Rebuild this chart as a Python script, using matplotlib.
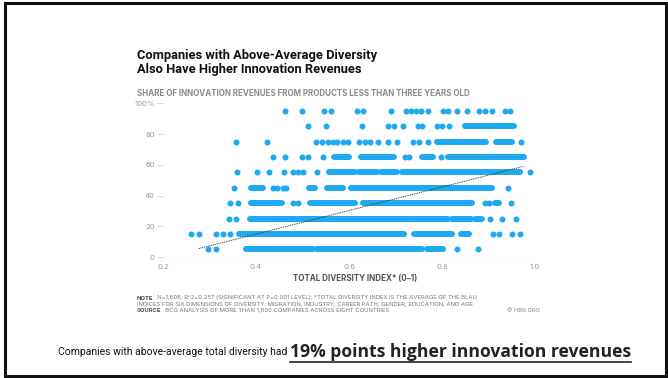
import matplotlib.pyplot as plt
from matplotlib.patches import Rectangle
from matplotlib.lines import Line2D

# rows of the scatter (share of innovation revenues, %)
row_levels = [5, 15, 25, 35, 45, 55, 65, 75, 85, 95]

# single dots and continuous runs of overlapping dots, per row
dots_05 = [0.296, 0.315, 0.832, 0.877]
runs_05 = [(0.378, 0.522), (0.532, 0.757), (0.768, 0.801)]
dots_15 = [0.261, 0.278, 0.315, 0.329, 0.343, 0.910, 0.922, 0.950, 0.967]
runs_15 = [(0.363, 0.719), (0.739, 0.822), (0.841, 0.858)]
dots_25 = [0.342, 0.358, 0.902, 0.928, 0.959]
runs_25 = [(0.387, 0.812), (0.822, 0.862), (0.870, 0.885)]
dots_35 = [0.343, 0.361, 0.479, 0.490, 0.893, 0.900, 0.949]
runs_35 = [(0.389, 0.455), (0.517, 0.612), (0.630, 0.865), (0.913, 0.923)]
dots_45 = [0.352, 0.436, 0.444, 0.457, 0.465, 0.941]
runs_45 = [(0.389, 0.416), (0.514, 0.526), (0.553, 0.587), (0.605, 0.907)]
dots_55 = [0.359, 0.401, 0.428, 0.460, 0.479, 0.490, 0.500, 0.531, 0.989]
runs_55 = [(0.557, 0.612), (0.622, 0.660), (0.668, 0.704), (0.714, 0.968)]
dots_65 = [0.436, 0.462, 0.498, 0.511, 0.543, 0.720, 0.728, 0.797]
runs_65 = [(0.568, 0.600), (0.625, 0.697), (0.757, 0.780), (0.812, 0.976)]
dots_75 = [0.358, 0.423, 0.529, 0.542, 0.555, 0.565, 0.575, 0.586, 0.597,
           0.622, 0.634, 0.645, 0.663, 0.684, 0.704, 0.738, 0.750, 0.770, 0.970]
runs_75 = [(0.789, 0.894), (0.915, 0.951)]
dots_85 = [0.511, 0.550, 0.628, 0.683, 0.697, 0.716, 0.749, 0.757,
           0.789, 0.800, 0.815]
runs_85 = [(0.849, 0.954)]
dots_95 = [0.462, 0.498, 0.547, 0.562, 0.616, 0.629, 0.690, 0.722, 0.733,
           0.743, 0.754, 0.770, 0.802, 0.812, 0.832, 0.854, 0.879, 0.893,
           0.907, 0.936, 0.946]
runs_95 = []

all_dots = [dots_05, dots_15, dots_25, dots_35, dots_45,
            dots_55, dots_65, dots_75, dots_85, dots_95]
all_runs = [runs_05, runs_15, runs_25, runs_35, runs_45,
            runs_55, runs_65, runs_75, runs_85, runs_95]

# regression line end points
trend_x = [0.277, 0.975]
trend_y = [5.5, 59.0]

x_ticks = [0.2, 0.4, 0.6, 0.8, 1.0]
y_ticks = [0, 20, 40, 60, 80, 100]
y_tick_labels = ["0", "20", "40", "60", "80", "100%"]

W, H = 668, 378
blue = "#1ea9f0"
dot_pt = 6 * 72 / 100  # dot diameter in points

plt.rcParams["font.family"] = ["Inter", "DejaVu Sans"]

fig = plt.figure(figsize=(W / 100, H / 100), dpi=100)
fig.patch.set_facecolor("white")


def fx(x):
    return x / W


def fy(y):
    return 1 - y / H


ax = fig.add_axes([fx(163), fy(257), 374 / W, 153.7 / H])
ax.set_xlim(0.2, 1.004)
ax.set_ylim(0, 100)

for y, xs, runs in zip(row_levels, all_dots, all_runs):
    ax.scatter(xs, [y] * len(xs), s=dot_pt ** 2, color=blue,
               linewidths=0, clip_on=False, zorder=3)
    for a, b in runs:
        ax.plot([a, b], [y, y], color=blue, lw=dot_pt,
                solid_capstyle="round", clip_on=False, zorder=3)

ax.plot(trend_x, trend_y, color="#333333", lw=0.7,
        linestyle=(0, (1, 0.9)), zorder=4)

ax.axhline(0, color="#dddddd", lw=0.8, zorder=1)
for s in ax.spines.values():
    s.set_visible(False)

ax.set_yticks(y_ticks)
ax.set_yticklabels(y_tick_labels)
ax.tick_params(axis="y", length=4, width=0.6, color="#cccccc",
               labelsize=5.5, labelcolor="#999999", pad=2)
ax.set_xticks(x_ticks)
ax.set_xticklabels([f"{v:.1f}" for v in x_ticks])
ax.tick_params(axis="x", length=0, labelsize=5.5, labelcolor="#999999", pad=5)

# titles
title_font = ["Roboto", "DejaVu Sans"]
fig.text(fx(137), fy(55), "Companies with Above-Average Diversity",
         fontsize=9.3, fontweight="bold", color="#111111", va="center",
         family=title_font)
fig.text(fx(137), fy(70), "Also Have Higher Innovation Revenues",
         fontsize=9.3, fontweight="bold", color="#111111", va="center",
         family=title_font)
fig.text(fx(137), fy(93),
         "SHARE OF INNOVATION REVENUES FROM PRODUCTS LESS THAN THREE YEARS OLD",
         fontsize=5.75, fontweight="bold", color="#8a8a8a", va="center")

fig.text(fx(355), fy(278), "TOTAL DIVERSITY INDEX* (0\u20131)",
         fontsize=5.8, fontweight="bold", color="#555555",
         ha="center", va="center")

# notes
note_lines = [
    ("NOTE", "N=1,606, R^2=0.257 (SIGNIFICANT AT P=0.001 LEVEL); *TOTAL DIVERSITY INDEX IS THE AVERAGE OF THE BLAU"),
    ("", "INDICES FOR SIX DIMENSIONS OF DIVERSITY: MIGRATION, INDUSTRY, CAREER PATH, GENDER, EDUCATION, AND AGE."),
    ("SOURCE", "BCG ANALYSIS OF MORE THAN 1,600 COMPANIES ACROSS EIGHT COUNTRIES"),
]
for i, (head, body) in enumerate(note_lines):
    yy = 298 + i * 6.2
    if head:
        t = fig.text(fx(137), fy(yy), head, fontsize=4.25, fontweight="bold",
                     color="#555555", va="center")
        ax.annotate("  " + body, xy=(1, 0.5), xycoords=t, va="center",
                    fontsize=4.25, color="#777777", annotation_clip=False)
    else:
        fig.text(fx(137), fy(yy), body, fontsize=4.25, color="#777777",
                 va="center")

fig.text(fx(540), fy(311), "\u00a9 HBR.ORG", fontsize=4.2, color="#888888",
         ha="right", va="center")

# slide caption
cap = fig.text(fx(58), fy(355), "Companies with above-average total diversity had ",
               fontsize=7.5, color="#111111", va="baseline",
               family=["Roboto", "DejaVu Sans"])
cap_b = ax.annotate("19% points higher innovation revenues", xy=(1, 0),
                    xycoords=cap, va="baseline", fontsize=12.6,
                    fontweight="bold", color="#222222",
                    family=["Open Sans", "DejaVu Sans"], annotation_clip=False)

fig.canvas.draw()
bb = cap_b.get_window_extent()
fig.add_artist(Line2D([bb.x0 / W, bb.x1 / W], [(bb.y0 - 1) / H, (bb.y0 - 1) / H],
                      transform=fig.transFigure, color="#222222", lw=1.2))

# slide frame
fig.add_artist(Rectangle((fx(5), fy(376)), (666 - 5) / W, (376 - 3) / H,
                         transform=fig.transFigure, fill=False,
                         edgecolor="#111111", lw=2.2))

fig.savefig("out.png", dpi=100)
